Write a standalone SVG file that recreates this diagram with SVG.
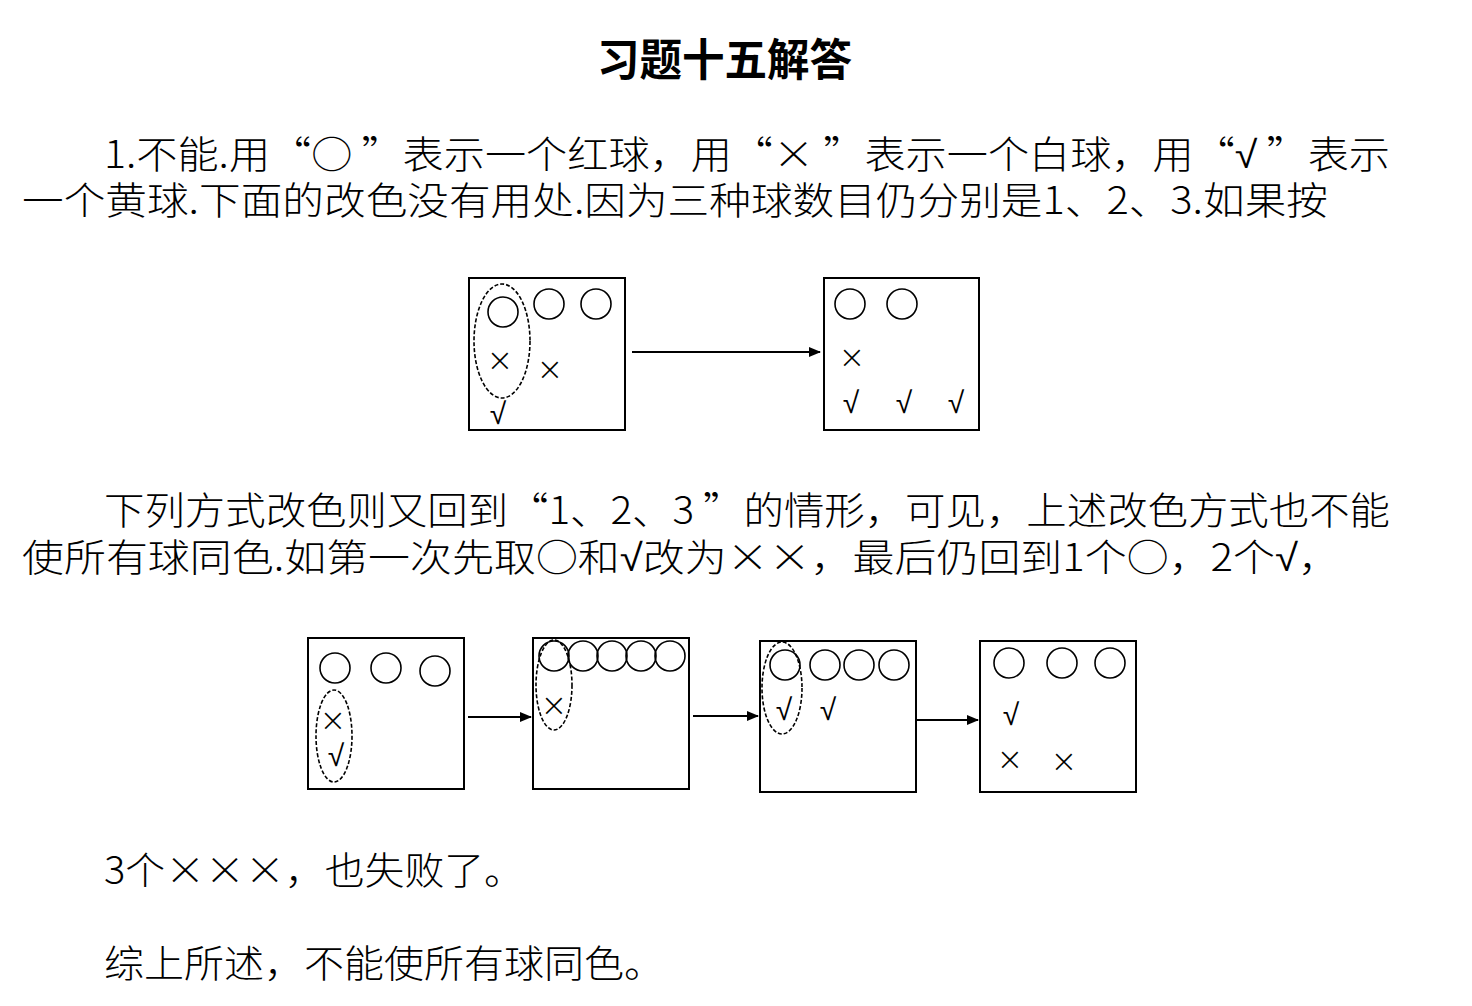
<svg xmlns="http://www.w3.org/2000/svg" width="1472" height="1006" viewBox="0 0 1472 1006">
<style>
.t{font-family:"Noto Sans CJK SC","Liberation Serif",serif;font-size:38px;font-weight:300;fill:#000}
.ttl{font-family:"Noto Sans CJK SC","Liberation Sans",sans-serif;font-size:44px;font-weight:bold;fill:#000}
.ck{font-family:"DejaVu Sans",sans-serif;font-weight:200}
.box{fill:#fff;stroke:#000;stroke-width:2}
.ball{fill:none;stroke:#000;stroke-width:1.6}
.ring{fill:none;stroke:#000;stroke-width:1.6;stroke-dasharray:4 2}
.x{font-family:"DejaVu Sans",sans-serif;font-weight:200;font-size:32px;fill:#000;text-anchor:middle;dominant-baseline:central}
.v{font-family:"DejaVu Sans",sans-serif;font-weight:200;font-size:30px;fill:#000;text-anchor:middle;dominant-baseline:central}
.arr{fill:none;stroke:#000;stroke-width:2;marker-end:url(#ah)}
</style>
<defs>
<marker id="ah" markerUnits="userSpaceOnUse" markerWidth="12" markerHeight="10" refX="11" refY="5" orient="auto">
<path d="M0,0 L12,5 L0,10 Z" fill="#000"/>
</marker>
</defs>
<rect width="1472" height="1006" fill="#fff"/>

<g id="texts">
<text class="ttl" x="597" y="76" textLength="255" lengthAdjust="spacingAndGlyphs">习题十五解答</text>
<text class="t"><tspan x="104" y="168" textLength="1286" lengthAdjust="spacingAndGlyphs">1.不能.用“○ ”表示一个红球，用“× ”表示一个白球，用“<tspan class="ck">√</tspan> ”表示</tspan><tspan x="22" y="214" textLength="1306" lengthAdjust="spacingAndGlyphs">一个黄球.下面的改色没有用处.因为三种球数目仍分别是1、2、3.如果按</tspan></text>
<text class="t"><tspan x="104" y="524" textLength="1286" lengthAdjust="spacingAndGlyphs">下列方式改色则又回到“1、2、3 ”的情形，可见，上述改色方式也不能</tspan><tspan x="22" y="571" textLength="1318" lengthAdjust="spacingAndGlyphs">使所有球同色.如第一次先取○和<tspan class="ck">√</tspan>改为××，最后仍回到1个○，2个<tspan class="ck">√</tspan>，</tspan></text>
<text class="t" x="104" y="884" textLength="420" lengthAdjust="spacingAndGlyphs">3个×××，也失败了。</text>
<text class="t" x="104" y="977" textLength="560" lengthAdjust="spacingAndGlyphs">综上所述，不能使所有球同色。</text>
</g>

<g id="box1">
<rect class="box" x="469" y="278" width="156" height="152"/>
<circle class="ball" cx="503" cy="312" r="15"/>
<circle class="ball" cx="549" cy="304" r="15"/>
<circle class="ball" cx="596" cy="304" r="15"/>
<ellipse class="ring" cx="502" cy="341" rx="28" ry="57"/>
<text class="x" x="500" y="360">×</text>
<text class="x" x="550" y="369">×</text>
<text class="v" x="498" y="413">√</text>
</g>

<g id="box2">
<rect class="box" x="824" y="278" width="155" height="152"/>
<circle class="ball" cx="850" cy="304" r="15"/>
<circle class="ball" cx="902" cy="304" r="15"/>
<text class="x" x="852" y="357">×</text>
<text class="v" x="851" y="402">√</text>
<text class="v" x="904" y="402">√</text>
<text class="v" x="956" y="402">√</text>
</g>

<g id="boxA">
<rect class="box" x="308" y="638" width="156" height="151"/>
<circle class="ball" cx="335" cy="668" r="15"/>
<circle class="ball" cx="386" cy="668" r="15"/>
<circle class="ball" cx="435" cy="671" r="15"/>
<ellipse class="ring" cx="334" cy="736" rx="18" ry="46"/>
<text class="x" x="333" y="720">×</text>
<text class="v" x="336" y="755">√</text>
</g>

<g id="boxB">
<rect class="box" x="533" y="638" width="156" height="151"/>
<circle class="ball" cx="554" cy="656" r="15"/>
<circle class="ball" cx="583" cy="656" r="15"/>
<circle class="ball" cx="612" cy="656" r="15"/>
<circle class="ball" cx="641" cy="656" r="15"/>
<circle class="ball" cx="670" cy="656" r="15"/>
<ellipse class="ring" cx="554" cy="685" rx="18" ry="45"/>
<text class="x" x="554" y="705">×</text>
</g>

<g id="boxC">
<rect class="box" x="760" y="641" width="156" height="151"/>
<circle class="ball" cx="785" cy="665" r="15"/>
<circle class="ball" cx="825" cy="665" r="15"/>
<circle class="ball" cx="859" cy="665" r="15"/>
<circle class="ball" cx="894" cy="665" r="15"/>
<ellipse class="ring" cx="782" cy="688" rx="20" ry="46"/>
<text class="v" x="784" y="709">√</text>
<text class="v" x="828" y="709">√</text>
</g>

<g id="boxD">
<rect class="box" x="980" y="641" width="156" height="151"/>
<circle class="ball" cx="1009" cy="663" r="15"/>
<circle class="ball" cx="1062" cy="663" r="15"/>
<circle class="ball" cx="1110" cy="663" r="15"/>
<text class="v" x="1011" y="714">√</text>
<text class="x" x="1010" y="759">×</text>
<text class="x" x="1064" y="761">×</text>
</g>

<g id="connectors">
<line class="arr" x1="632" y1="352" x2="820" y2="352"/>
<line class="arr" x1="468" y1="717" x2="531" y2="717"/>
<line class="arr" x1="693" y1="716" x2="758" y2="716"/>
<line class="arr" x1="917" y1="720" x2="978" y2="720"/>
</g>
</svg>
